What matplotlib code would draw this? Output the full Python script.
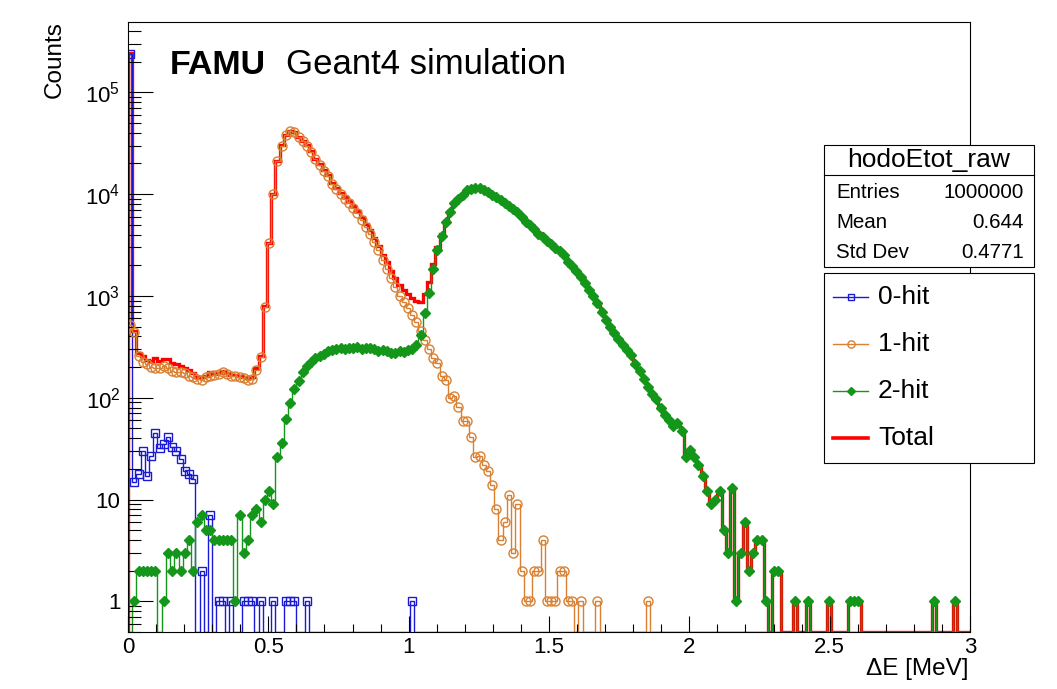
import numpy as np
import matplotlib
matplotlib.use("Agg")
import matplotlib.pyplot as plt
from matplotlib.lines import Line2D
from matplotlib.patches import Rectangle
from matplotlib.ticker import FixedLocator, LogLocator, NullFormatter, MultipleLocator

plt.rcParams['font.family'] = ['Liberation Sans', 'DejaVu Sans']
plt.rcParams['mathtext.fontset'] = 'custom'
plt.rcParams['mathtext.rm'] = 'Liberation Sans'
plt.rcParams['mathtext.it'] = 'Liberation Sans:italic'
plt.rcParams['mathtext.bf'] = 'Liberation Sans:bold'

# histogram binning: 200 bins from 0 to 3 MeV
nbins = 200
e_min, e_max = 0.0, 3.0

# counts per bin (20 bins per row)
hit0 = [240000, 15, 18, 30, 17, 27, 45, 32, 35, 41, 33, 30, 25, 19, 18, 16, 0, 2, 0, 7,
        0, 1, 1, 0, 1, 0, 0, 1, 1, 1, 0, 1, 0, 0, 1, 0, 0, 1, 1, 1,
        0, 0, 1, 0, 0, 0, 0, 0, 0, 0, 0, 0, 0, 0, 0, 0, 0, 0, 0, 0,
        0, 0, 0, 0, 0, 0, 0, 1, 0, 0, 0, 0, 0, 0, 0, 0, 0, 0, 0, 0,
        0, 0, 0, 0, 0, 0, 0, 0, 0, 0, 0, 0, 0, 0, 0, 0, 0, 0, 0, 0,
        0, 0, 0, 0, 0, 0, 0, 0, 0, 0, 0, 0, 0, 0, 0, 0, 0, 0, 0, 0,
        0, 0, 0, 0, 0, 0, 0, 0, 0, 0, 0, 0, 0, 0, 0, 0, 0, 0, 0, 0,
        0, 0, 0, 0, 0, 0, 0, 0, 0, 0, 0, 0, 0, 0, 0, 0, 0, 0, 0, 0,
        0, 0, 0, 0, 0, 0, 0, 0, 0, 0, 0, 0, 0, 0, 0, 0, 0, 0, 0, 0,
        0, 0, 0, 0, 0, 0, 0, 0, 0, 0, 0, 0, 0, 0, 0, 0, 0, 0, 0, 0]

hit1 = [520, 440, 255, 225, 215, 200, 198, 195, 205, 198, 185, 180, 178, 175, 165, 158, 152, 150, 158, 165,
        168, 170, 178, 172, 162, 165, 158, 155, 150, 152, 188, 252, 785, 3300, 10000, 21000, 30000, 38000, 42000, 40500,
        36000, 33000, 30000, 26000, 22000, 19500, 17000, 15000, 12700, 11300, 10000, 9000, 8200, 7300, 6500, 5600, 4800, 4100, 3400, 2800,
        2250, 1850, 1500, 1230, 1000, 875, 760, 650, 560, 450, 365, 300, 245, 218, 162, 150, 100, 105, 81, 59,
        59, 41, 26, 27, 22, 19, 14, 8, 4, 6, 11, 3, 9, 2, 1, 1, 2, 2, 4, 1,
        1, 1, 2, 2, 1, 1, 0, 1, 0, 0, 0, 1, 0, 0, 0, 0, 0, 0, 0, 0,
        0, 0, 0, 1, 0, 0, 0, 0, 0, 0, 0, 0, 0, 0, 0, 0, 0, 0, 0, 0,
        0, 0, 0, 0, 0, 0, 0, 0, 0, 0, 0, 0, 0, 0, 0, 0, 0, 0, 0, 0,
        0, 0, 0, 0, 0, 0, 0, 0, 0, 0, 0, 0, 0, 0, 0, 0, 0, 0, 0, 0,
        0, 0, 0, 0, 0, 0, 0, 0, 0, 0, 0, 0, 0, 0, 0, 0, 0, 0, 0, 0]

hit2 = [0, 1, 2, 2, 2, 2, 2, 0, 1, 3, 2, 3, 2, 3, 4, 2, 6, 7, 5, 5,
        4, 4, 4, 4, 4, 1, 7, 3, 4, 7, 8, 6, 10, 12, 9, 26, 36, 62, 89, 122,
        145, 180, 205, 225, 245, 258, 270, 285, 295, 300, 305, 298, 310, 305, 312, 302, 310, 305, 298, 290,
        295, 285, 272, 275, 285, 280, 295, 300, 330, 415, 676, 1070, 1830, 2800, 3900, 5300, 6700, 8100, 9000, 9900,
        10900, 11300, 11500, 11400, 11000, 10600, 9900, 9400, 8800, 8200, 7600, 7100, 6600, 5900, 5300, 5000, 4500, 4100, 3800, 3500,
        3200, 2950, 2750, 2500, 2150, 1950, 1750, 1550, 1350, 1150, 990, 850, 690, 580, 500, 430, 380, 330, 295, 263,
        215, 185, 152, 127, 110, 97, 79, 68, 60, 53, 57, 47, 26, 31, 26, 22, 17, 12, 9, 10,
        12, 5, 3, 13, 1, 3, 6, 2, 3, 4, 4, 1, 0, 2, 2, 0, 0, 0, 1, 0,
        0, 1, 0, 0, 0, 0, 1, 0, 0, 0, 0, 1, 1, 1, 0, 0, 0, 0, 0, 0,
        0, 0, 0, 0, 0, 0, 0, 0, 0, 0, 0, 1, 0, 0, 0, 0, 1, 0, 0, 0]

stats_rows = [("Entries", "1000000"), ("Mean", "0.644"), ("Std Dev", "0.4771")]
legend_labels = ["0-hit", "1-hit", "2-hit", "Total"]

xtick_vals = [0, 0.5, 1, 1.5, 2, 2.5, 3]
xtick_text = ["0", "0.5", "1", "1.5", "2", "2.5", "3"]
ytick_vals = [1, 10, 1e2, 1e3, 1e4, 1e5]
ytick_text = ["1", "10", r"$\mathregular{10^{2}}$", r"$\mathregular{10^{3}}$",
              r"$\mathregular{10^{4}}$", r"$\mathregular{10^{5}}$"]

c_blue, c_orange, c_green, c_red = "#1a1ad6", "#d98032", "#14961a", "#ff0000"

W, H = 1057, 689
def fx(px):
    return px / W
def fy(py):
    return 1 - py / H

YMIN, YMAX = 0.5, 4.9e5

h0, h1, h2 = (np.array(h, dtype=float) for h in (hit0, hit1, hit2))
total = h0 + h1 + h2
edges = np.linspace(e_min, e_max, nbins + 1)
centers = 0.5 * (edges[:-1] + edges[1:])

fig = plt.figure(figsize=(W / 100, H / 100), dpi=100)
ax = fig.add_axes([fx(128), fy(632), (970 - 128) / W, (632 - 22) / H])


def draw(v, color, lw, marker=None, ms=5, mfc="none"):
    ax.stairs(np.where(v > 0, v, YMIN), edges, baseline=YMIN, color=color, lw=lw)
    if marker:
        ax.plot(centers[v > 0], v[v > 0], ls="none", marker=marker, ms=ms,
                mfc=mfc, mec=color, mew=1.0)


draw(total, c_red, 2.4)
draw(h0, c_blue, 1.0, "s", 6)
draw(h1, c_orange, 1.0, "o", 6.5)
draw(h2, c_green, 1.0, "D", 5.2, mfc=c_green)

ax.set_xlim(e_min, e_max)
ax.set_yscale("log")
ax.set_ylim(YMIN, YMAX)

ax.xaxis.set_major_locator(FixedLocator(xtick_vals))
ax.set_xticklabels(xtick_text)
ax.xaxis.set_minor_locator(MultipleLocator(0.1))
ax.yaxis.set_major_locator(FixedLocator(ytick_vals))
ax.set_yticklabels(ytick_text)
ax.yaxis.set_minor_locator(LogLocator(base=10, subs=np.arange(2, 10), numticks=20))
ax.yaxis.set_minor_formatter(NullFormatter())

ax.tick_params(which="both", direction="in", top=False, right=False, labelsize=16, width=0.8)
ax.tick_params(axis="x", which="major", length=11.5, pad=3.5)
ax.tick_params(axis="x", which="minor", length=5.8)
ax.tick_params(axis="y", which="major", length=18, pad=5.5)
ax.tick_params(axis="y", which="minor", length=9)
for s in ax.spines.values():
    s.set_linewidth(0.8)

fig.text(fx(55), fy(21), "Counts", rotation=90, ha="center", va="top", fontsize=17.5)
fig.text(fx(968), fy(669), "\u0394E [MeV]", ha="right", va="center", fontsize=17.5)
fig.text(fx(170), fy(65), "FAMU", ha="left", va="center", fontsize=24.5, fontweight="bold")
fig.text(fx(286), fy(65), "Geant4 simulation", ha="left", va="center", fontsize=25)

# stats box
fig.add_artist(Rectangle((fx(824), fy(267)), (1034 - 824) / W, (267 - 145) / H,
                         transform=fig.transFigure, facecolor="white", edgecolor="black", lw=0.8))
fig.add_artist(Line2D([fx(824), fx(1034)], [fy(175), fy(175)], transform=fig.transFigure,
                      color="black", lw=0.8))
fig.text(fx(929), fy(160), "hodoEtot_raw", ha="center", va="center", fontsize=19)
for i, (name, val) in enumerate(stats_rows):
    yy = fy(192 + 30 * i)
    fig.text(fx(836), yy, name, ha="left", va="center", fontsize=14.8)
    fig.text(fx(1024), yy, val, ha="right", va="center", fontsize=14.8)

# legend box
fig.add_artist(Rectangle((fx(824), fy(463)), (1034 - 824) / W, (463 - 273) / H,
                         transform=fig.transFigure, facecolor="white", edgecolor="black", lw=0.8))
styles = [(c_blue, 1.0, "s", 6, "none"), (c_orange, 1.0, "o", 6.5, "none"),
          (c_green, 1.0, "D", 5.2, c_green), (c_red, 2.6, None, 0, "none")]
for i, (lab, (col, lw, mk, ms, mfc)) in enumerate(zip(legend_labels, styles)):
    yy = fy(297 + 47 * i)
    fig.add_artist(Line2D([fx(833), fx(868)], [yy, yy], transform=fig.transFigure, color=col, lw=lw))
    if mk:
        fig.add_artist(Line2D([fx(851)], [yy], transform=fig.transFigure, ls="none", marker=mk,
                              ms=ms * 0.8, mfc=mfc, mec=col, mew=1.0))
    fig.text(fx(878), yy, lab, ha="left", va="center", fontsize=19)

fig.savefig("out.png", dpi=100)
